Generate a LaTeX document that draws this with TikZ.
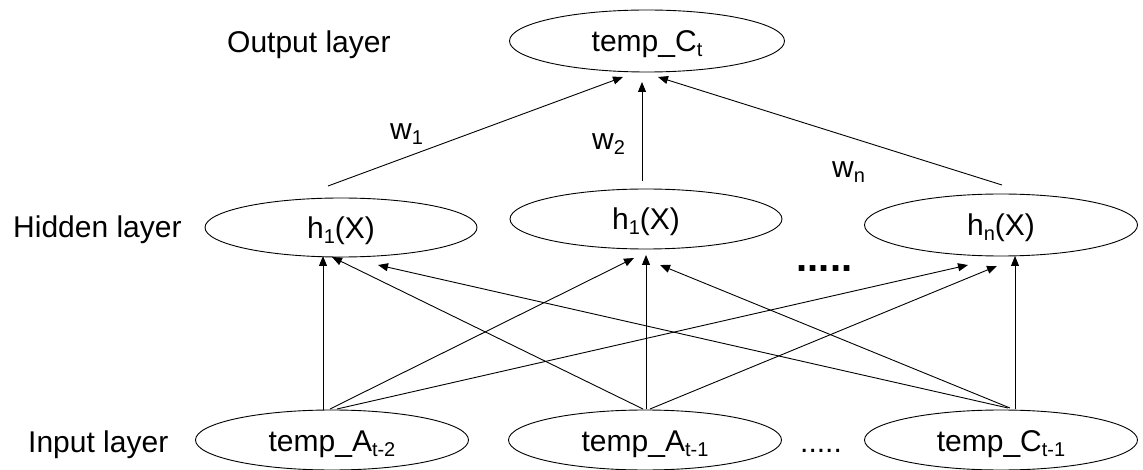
\documentclass[tikz,border=0pt]{standalone}
\usepackage{fontspec}
\setmainfont{Liberation Sans}
\usetikzlibrary{shapes.geometric,arrows.meta,calc}
% lowered index in Arial-like text
\newcommand\lowidx[1]{\raisebox{-5pt}{\fontsize{20pt}{20pt}\selectfont #1}}
\begin{document}
\begin{tikzpicture}[x=1pt,y=-1pt,
  every node/.style={font=\fontsize{30pt}{36pt}\selectfont, inner sep=0pt},
  unit/.style={ellipse, draw, line width=0.9pt, minimum width=273pt,
               minimum height=61pt, text height=22pt, text depth=0pt},
  link/.style={line width=0.9pt, -{Triangle[length=10pt,width=8pt]}},
  tag/.style={anchor=base west},
]
\useasboundingbox (0,0) rectangle (1143,470);

% neurons
\node[unit, minimum width=275pt, minimum height=62pt] (out) at (647,41) {temp\_C\lowidx{t}};
\node[unit, minimum width=272pt, minimum height=59pt] (h1) at (341,227.5) {h\lowidx{1}(X)};
\node[unit, minimum width=272pt, minimum height=60pt] (h2) at (646,219) {h\lowidx{1}(X)};
\node[unit, minimum height=62pt] (h3) at (1001,225) {h\lowidx{n}(X)};
\node[unit, minimum height=60pt] (in1) at (332,440) {temp\_A\lowidx{t-2}};
\node[unit, minimum height=60pt] (in2) at (645,440) {temp\_A\lowidx{t-1}};
\node[unit, minimum height=60pt] (in3) at (1001,440) {temp\_C\lowidx{t-1}};

% layer captions
\node[tag] (lo) at (227,53) {Output layer};
\node[tag] (lh) at (13,238) {Hidden layer};
\node[tag] (li) at (28,452) {Input layer};

% weights
\node[tag] (w1) at (390,140) {w\lowidx{1}};
\node[tag] (w2) at (592,150) {w\lowidx{2}};
\node[tag] (wn) at (832,178) {w\lowidx{n}};

% ellipses between units
\node[font=\fontsize{40pt}{40pt}\selectfont\bfseries] (hdots) at (824.5,269) {.....};
\node[anchor=base] (idots) at (821,452) {.....};

% input -> hidden
\draw[link] ($(in1)+(-9,-30)$) -- ($(h1)+(-18,28.5)$);
\draw[link] ($(in1)+(-2,-31)$) -- ($(h2)+(-12,39)$);
\draw[link] ($(in1)+(5,-31)$)  -- ($(h3)+(-33,40)$);
\draw[link] ($(in2)+(-2,-31)$) -- ($(h1)+(-9,29.5)$);
\draw[link] ($(in2)+(1,-31)$)  -- ($(h2)+(0,36)$);
\draw[link] ($(in2)+(5,-31)$)  -- ($(h3)+(-4,41)$);
\draw[link] ($(in3)+(7,-32)$)  -- ($(h1)+(37,37.5)$);
\draw[link] ($(in3)+(9,-32)$)  -- ($(h2)+(14,46)$);
\draw[link] ($(in3)+(14,-31)$) -- ($(h3)+(14,31)$);

% hidden -> output
\draw[link] ($(h1)+(-13,-41.5)$) -- ($(out)+(-24,36)$);
\draw[link] ($(h2)+(-4,-38)$)    -- ($(out)+(-5,41)$);
\draw[link] ($(h3)+(1,-40)$)     -- ($(out)+(11,36)$);
\end{tikzpicture}
\end{document}
